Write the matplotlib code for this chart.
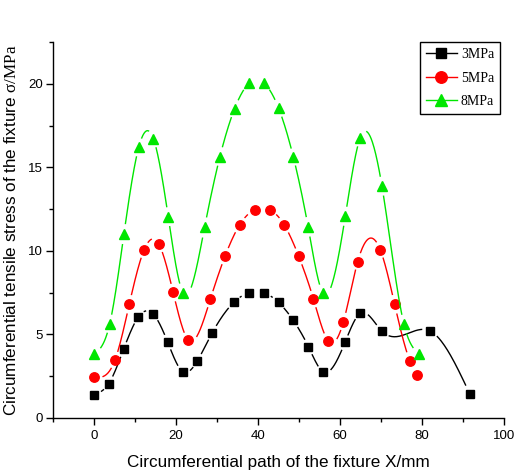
import numpy as np
import matplotlib
matplotlib.use('Agg')
import matplotlib.pyplot as plt

plt.rcParams['mathtext.fontset'] = 'custom'
plt.rcParams['mathtext.rm'] = 'Liberation Serif'
plt.rcParams['mathtext.it'] = 'Liberation Serif:italic'

# values
x_3 = [0, 3.6, 7.2, 10.8, 14.4, 18.0, 21.6, 25.2, 28.8, 34.1, 37.7, 41.4, 45.0,
       48.6, 52.3, 55.9, 61.2, 64.9, 70.2, 82.0, 91.6]
s_3 = [1.40, 2.06, 4.10, 6.04, 6.23, 4.52, 2.78, 3.42, 5.08, 6.92, 7.49, 7.49, 6.92,
       5.84, 4.26, 2.76, 4.52, 6.26, 5.20, 5.20, 1.46]

x_5 = [0, 5.1, 8.6, 12.2, 15.8, 19.3, 23.0, 28.4, 32.0, 35.5, 39.2, 42.8, 46.4,
       49.9, 53.5, 57.1, 60.8, 64.3, 69.8, 73.3, 77.0, 78.8]
s_5 = [2.46, 3.46, 6.80, 10.05, 10.41, 7.52, 4.66, 7.13, 9.71, 11.55, 12.47, 12.47, 11.55,
       9.69, 7.13, 4.62, 5.74, 9.35, 10.07, 6.82, 3.44, 2.58]

x_8 = [0, 3.8, 7.3, 10.9, 14.5, 18.1, 21.7, 27.0, 30.7, 34.3, 37.9, 41.4, 45.0,
       48.6, 52.2, 55.8, 61.3, 64.9, 70.2, 75.6, 79.3]
s_8 = [3.82, 5.60, 11.0, 16.19, 16.70, 12.05, 7.49, 11.45, 15.63, 18.52, 20.05, 20.05, 18.55,
       15.63, 11.45, 7.49, 12.11, 16.75, 13.90, 5.60, 3.82]

# name, x, y, colour, marker, marker size (pt)
series = [
    ('3MPa', x_3, s_3, 'black', 's', 5.8),
    ('5MPa', x_5, s_5, '#ff0000', 'o', 6.8),
    ('8MPa', x_8, s_8, '#00e600', '^', 7.4),
]


def natural_spline(x, y, per=40):
    x = np.asarray(x, float)
    y = np.asarray(y, float)
    n = len(x)
    h = np.diff(x)
    A = np.zeros((n, n))
    b = np.zeros(n)
    A[0, 0] = 1
    A[-1, -1] = 1
    for i in range(1, n - 1):
        A[i, i - 1] = h[i - 1]
        A[i, i] = 2 * (h[i - 1] + h[i])
        A[i, i + 1] = h[i]
        b[i] = 6 * ((y[i + 1] - y[i]) / h[i] - (y[i] - y[i - 1]) / h[i - 1])
    M = np.linalg.solve(A, b)
    xs, ys = [], []
    for i in range(n - 1):
        t = np.linspace(x[i], x[i + 1], per)
        a = x[i + 1] - t
        c = t - x[i]
        v = (M[i] * a ** 3 + M[i + 1] * c ** 3) / (6 * h[i]) \
            + (y[i] / h[i] - M[i] * h[i] / 6) * a \
            + (y[i + 1] / h[i] - M[i + 1] * h[i] / 6) * c
        xs.append(t)
        ys.append(v)
    return np.concatenate(xs), np.concatenate(ys)


fig = plt.figure(figsize=(5.17, 4.73), dpi=100)
ax = fig.add_axes([0.1025, 0.1163, 0.8725, 0.7949])
ax.set_xlim(-10, 100)
ax.set_ylim(0, 22.5)

handles = []
for name, xv, yv, col, mk, ms in series:
    xs, ys = natural_spline(xv, yv)
    # open a small gap in the line round each symbol (like Origin does)
    pts = ax.transData.transform(np.column_stack([xs, ys]))
    mpts = ax.transData.transform(np.column_stack([xv, yv]))
    d = np.min(np.hypot(pts[:, None, 0] - mpts[None, :, 0],
                        pts[:, None, 1] - mpts[None, :, 1]), axis=1)
    ys = np.where(d < ms * 100 / 72 / 2 + 4, np.nan, ys)
    ax.plot(xs, ys, color=col, lw=1.0)
    ax.plot(xv, yv, linestyle='none', marker=mk, markersize=ms,
            color=col, markeredgecolor=col)
    h, = ax.plot([], [], color=col, lw=1.0, marker=mk, markersize=ms + 1.5)
    handles.append(h)

ax.spines['top'].set_visible(False)
ax.spines['right'].set_visible(False)
ax.spines['left'].set_linewidth(1.0)
ax.spines['bottom'].set_linewidth(1.0)

ax.set_xticks([0, 20, 40, 60, 80, 100])
ax.set_xticks(np.arange(-10, 101, 10), minor=True)
ax.set_yticks([0, 5, 10, 15, 20])
ax.set_yticks(np.arange(0, 22.6, 2.5), minor=True)
ax.tick_params(which='major', direction='out', length=5, width=1,
               labelsize=9.5, pad=4)
ax.tick_params(axis='y', which='major', pad=2.5)
ax.tick_params(which='minor', direction='out', length=3, width=1)
for lab in ax.get_xticklabels() + ax.get_yticklabels():
    lab.set_family('Liberation Sans')

ax.set_xlabel('Circumferential path of the fixture X/mm', family='Liberation Sans',
              fontsize=12.3, labelpad=9)
ax.set_ylabel('Circumferential tensile stress of the fixture $\\mathrm{\\sigma/MPa}$',
              family='Liberation Sans', fontsize=12.3, labelpad=6)

leg = ax.legend(handles, [s[0] for s in series], loc='upper left',
                bbox_to_anchor=(0.812, 0.911), bbox_transform=fig.transFigure,
                borderaxespad=0, fancybox=False, framealpha=1, edgecolor='black',
                prop={'family': 'Liberation Serif', 'size': 10},
                handlelength=2.2, numpoints=1, labelspacing=0.75,
                borderpad=0.45, handletextpad=0.3)
leg.get_frame().set_linewidth(1.0)

fig.savefig('out.png', dpi=100)
